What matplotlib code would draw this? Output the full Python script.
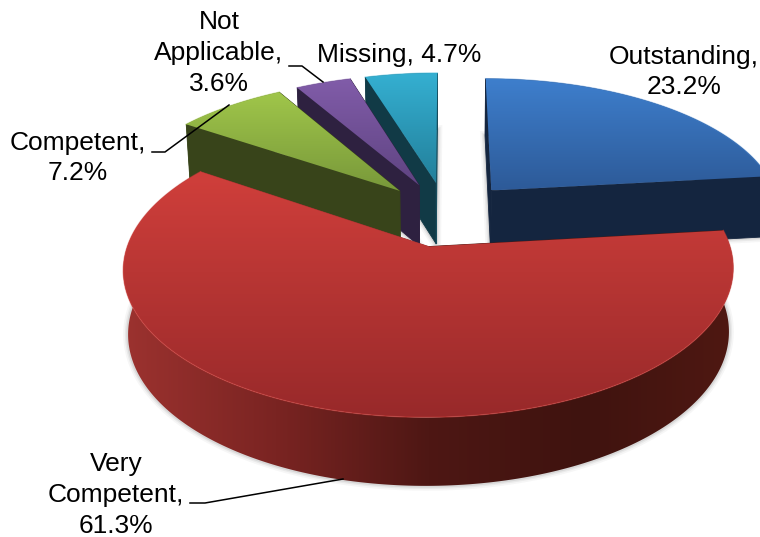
import numpy as np
import matplotlib
matplotlib.use('Agg')
import matplotlib.pyplot as plt
from matplotlib.colors import to_rgb, LinearSegmentedColormap
from matplotlib.patches import Polygon

plt.rcParams['font.family'] = ['Liberation Sans', 'DejaVu Sans']

# data
categories = ['Outstanding', 'Very\nCompetent', 'Competent', 'Not\nApplicable', 'Missing']
values = [23.2, 61.3, 7.2, 3.6, 4.7]

# colours: top face (back, front), wall (along the rim)
top_colors = [('#3e7fcd', '#2d5a98'), ('#d03f3b', '#98292a'), ('#a0c64a', '#78983a'),
              ('#815ca9', '#5f4482'), ('#35b0d2', '#227f9a')]
wall_colors = [['#14253f', '#14253f'], ['#9c322f', '#7a2422', '#4e1714', '#3f130f', '#4f1812'],
               ['#38441a', '#38441a'], ['#2e2140', '#2e2140'], ['#174c5c', '#113a46']]

# fake 3d camera
cx, cy = 446, 214
sx, sy = 291, 134.8
persp = 0.148
explode = 0.24
depth = 62
foot_scale = 0.985  # the underside is further away, so a bit narrower


def project(X, Y):
    f = 1 / (1 + persp * Y)
    return cx + sx * X * f, cy - sy * Y * f, depth * np.sqrt(f)


def foot(x):
    return cx + (x - cx) * foot_scale


fig = plt.figure(figsize=(7.6, 5.37), dpi=100)
fig.set_facecolor('white')
ax = fig.add_axes([0, 0, 1, 1])
ax.axis('off')

edges = np.concatenate([[0], np.cumsum(values)]) / np.sum(values) * 2 * np.pi
z = 1


def gradient(poly, colors, vertical, zorder):
    # image of a two way gradient, clipped to the polygon
    clip = Polygon(poly, closed=True, facecolor='none', edgecolor='none', zorder=zorder)
    ax.add_patch(clip)
    cm = LinearSegmentedColormap.from_list('g', colors)
    ramp = np.linspace(0, 1, 256)
    ramp = ramp.reshape(-1, 1) if vertical else ramp.reshape(1, -1)
    im = ax.imshow(ramp, cmap=cm, aspect='auto', origin='upper', zorder=zorder,
                   extent=(poly[:, 0].min(), poly[:, 0].max(), poly[:, 1].max(), poly[:, 1].min()))
    im.set_clip_path(clip)


def add_slice(i):
    global z
    a0, a1 = edges[i], edges[i + 1]
    mid = (a0 + a1) / 2
    ox, oy = explode * np.sin(mid), explode * np.cos(mid)
    th = np.linspace(a0, a1, max(int(np.degrees(a1 - a0)), 2) + 1)
    rx, ry, rd = project(ox + np.sin(th), oy + np.cos(th))
    px, py, pd = project(ox, oy)
    top = np.column_stack([np.r_[px, rx], np.r_[py, ry]])
    bottom = np.column_stack([np.r_[foot(px), foot(rx)], np.r_[py + pd, ry + rd]])

    # soft shadow round the foot of the slice
    for lw, al in [(7, 0.05), (4.5, 0.08), (2.5, 0.12)]:
        ax.add_patch(Polygon(bottom, closed=True, fill=False, edgecolor='#555555',
                             linewidth=lw, alpha=al, zorder=z))
    z += 1

    # rim wall
    wc = [to_rgb(c) for c in wall_colors[i]]
    wall = np.column_stack([np.r_[rx, foot(rx)[::-1]], np.r_[ry, (ry + rd)[::-1]]])
    gradient(wall, wc, False, z)
    z += 1

    # the two cut walls
    for j, c in [(0, wc[-1]), (-1, wc[0])]:
        ax.add_patch(Polygon([(px, py), (rx[j], ry[j]), (foot(rx[j]), ry[j] + rd[j]), (foot(px), py + pd)],
                             closed=True, facecolor=c, edgecolor=c, linewidth=0.6, zorder=z))
    z += 1

    # top face
    gradient(top, top_colors[i], True, z)
    z += 1
    ax.plot(rx, ry, color=top_colors[i][0], linewidth=1.0, alpha=0.5, zorder=z)
    z += 1


# back to front
for i in [4, 3, 2, 0, 1]:
    add_slice(i)

ax.set_xlim(0, 760)
ax.set_ylim(537, 0)

# labels
label_kw = dict(ha='center', va='center', fontsize=19, color='black', linespacing=1.35, zorder=100)
ax.text(684, 72, f'{categories[0]},\n{values[0]}%', **label_kw)
ax.text(116, 495, f'{categories[1]},\n{values[1]}%', **label_kw)
ax.text(78, 158, f'{categories[2]},\n{values[2]}%', **label_kw)
ax.text(219, 53, f'{categories[3]},\n{values[3]}%', **label_kw)
ax.text(399, 55, f'{categories[4]}, {values[4]}%', **label_kw)

# leader lines
leaders = [([190, 205, 343], [503, 503, 479]),
           ([152, 165, 229], [152, 152, 105]),
           ([289, 302, 323], [66, 66, 82])]
for lx, ly in leaders:
    ax.plot(lx, ly, color='black', linewidth=1.1, zorder=99)

fig.savefig('out.png', dpi=100)
